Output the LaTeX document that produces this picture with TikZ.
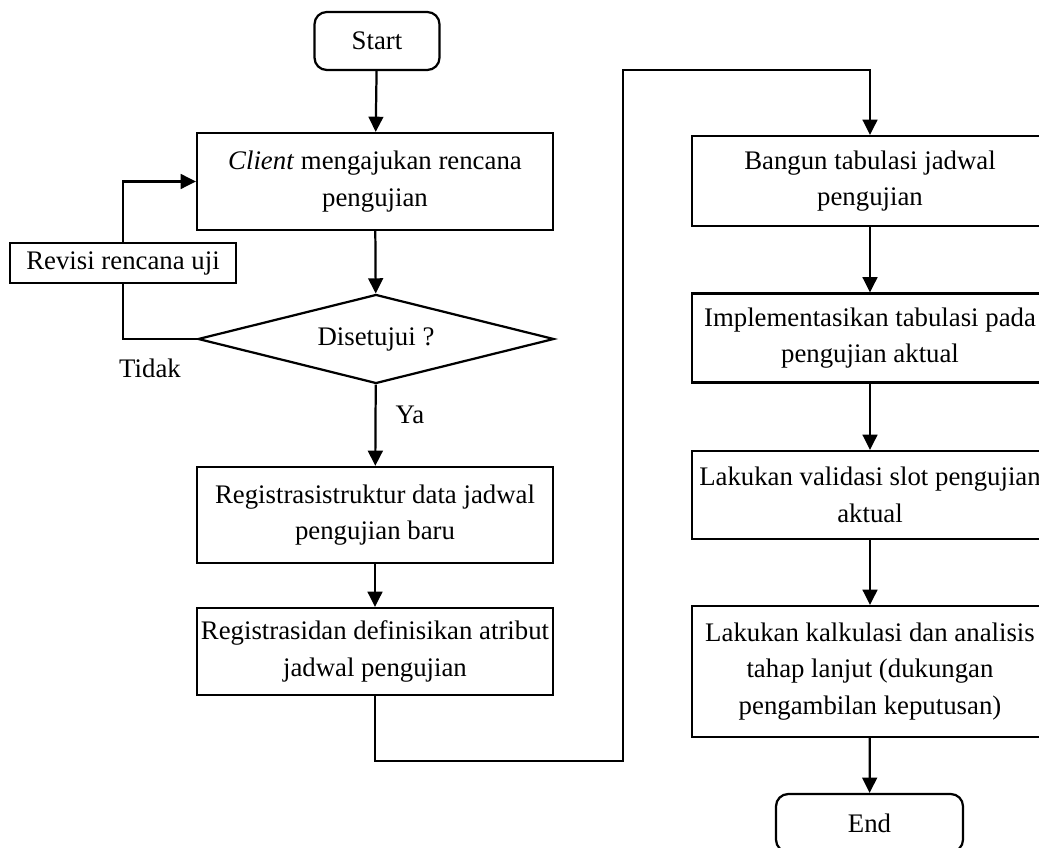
\documentclass[tikz,border=0pt]{standalone}
\usepackage{fontspec}
\setmainfont{Liberation Serif}
\usetikzlibrary{shapes.geometric,arrows.meta}

\tikzset{
  box/.style={draw=black, line width=1pt, fill=white, align=center, inner sep=1pt,
    minimum width=356*0.448pt},
  term/.style={draw=black, line width=1pt, fill=white, rounded corners=5.5pt, inner sep=1pt},
  decide/.style={draw=black, line width=1pt, fill=white, diamond, aspect=4, inner sep=0pt,
    minimum width=356*0.448pt, minimum height=89*0.448pt},
  arr/.style={line width=1pt, -{Triangle[length=6.8pt,width=6.6pt]}},
  line/.style={line width=1pt}
}

\begin{document}
\begin{tikzpicture}[x=0.448pt, y=-0.448pt]
\tikzstyle{every node}+=[font=\fontsize{12}{16.4}\selectfont]
\useasboundingbox (0,0) rectangle (1039,848);
% left column
\node [term, minimum width=125*0.448pt, minimum height=58*0.448pt] (start) at (377,41) {Start};
\node [box, minimum height=97*0.448pt] (client) at (375,181.5) {\textit{Client} mengajukan rencana\\pengujian};
\node [decide] (dec) at (376,339) {Disetujui ?};
\node [box, minimum width=226*0.448pt, minimum height=40*0.448pt] (revisi) at (123,263) {Revisi rencana uji};
\node [box, minimum height=96*0.448pt] (regA) at (375,515) {Registrasistruktur data jadwal\\pengujian baru};
\node [box, minimum height=87*0.448pt] (regB) at (375,651.5) {Registrasidan definisikan atribut\\jadwal pengujian};
\node (tidak) at (150,368) {Tidak};
\node (ya) at (410,415) {Ya};
% right column
\node [box, minimum height=90*0.448pt] (bangun) at (870,181) {Bangun tabulasi jadwal\\pengujian};
\node [box, minimum height=89*0.448pt] (impl) at (870,338) {Implementasikan tabulasi pada\\pengujian aktual};
\node [box, minimum height=88*0.448pt] (valid) at (870,495) {Lakukan validasi slot pengujian\\aktual};
\node [box, minimum height=131*0.448pt] (kalk) at (870,671.5) {Lakukan kalkulasi dan analisis\\tahap lanjut (dukungan\\pengambilan keputusan)};
\node [term, minimum width=187*0.448pt, minimum height=58*0.448pt] (end) at (869.5,823) {End};
\coordinate (c1) at (623,761);
\coordinate (c2) at (623,70);
% connectors
\draw [arr] (start) -- (client);
\draw [arr] (client) -- (dec);
\draw [line] (dec.west) -| (revisi.south);
\draw [arr] (revisi.north) |- (client.west);
\draw [arr] (dec) -- (regA);
\draw [arr] (regA) -- (regB);
\draw [arr] (regB.south) |- (c1) -- (c2) -| (bangun.north);
\draw [arr] (bangun) -- (impl);
\draw [arr] (impl) -- (valid);
\draw [arr] (valid) -- (kalk);
\draw [arr] (kalk) -- (end);
\end{tikzpicture}
\end{document}
